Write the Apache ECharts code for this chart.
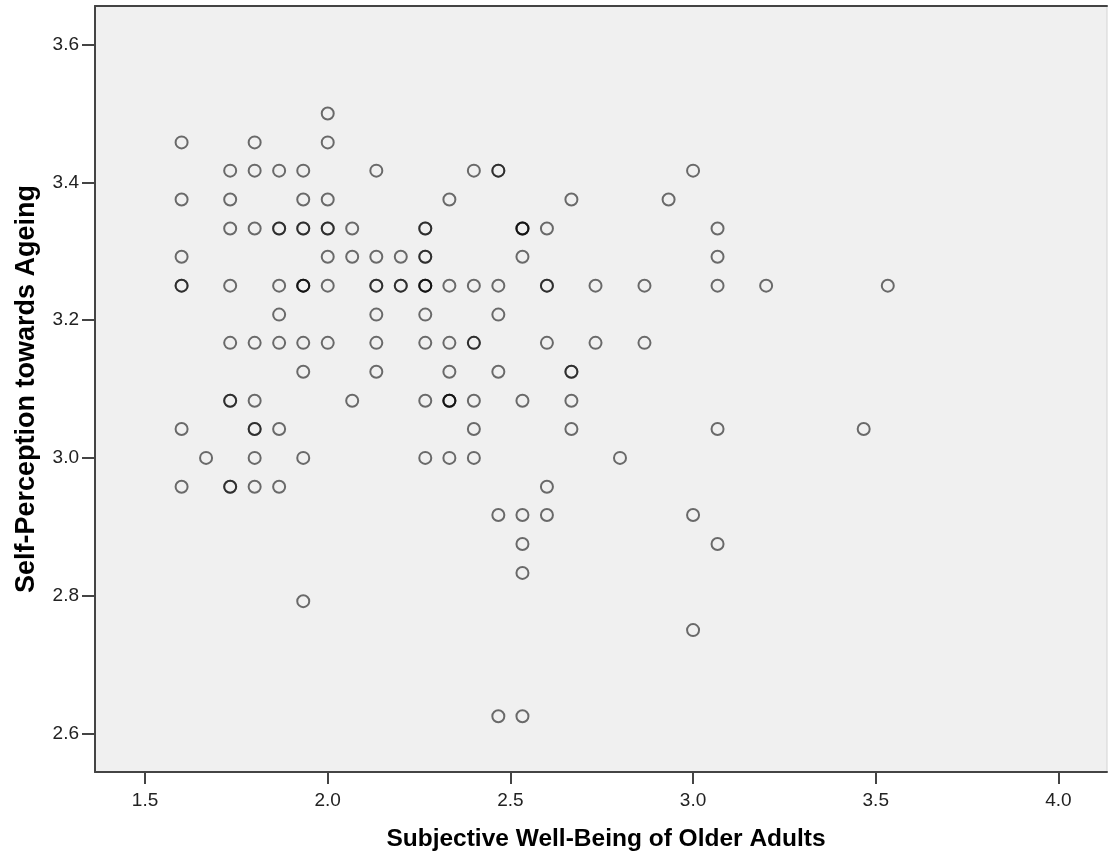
<!DOCTYPE html>
<html>
<head>
<meta charset="utf-8">
<title>Self-Perception towards Ageing</title>
<script src="https://cdn.jsdelivr.net/npm/echarts@6.0.0/dist/echarts.min.js"></script>
<style>
  html, body { margin: 0; padding: 0; background: #fff; }
  #chart { width: 1108px; height: 854px; }
</style>
</head>
<body>
<div id="chart"></div>
<script>
// Subjective well-being score of each respondent (x)
const swbScores = [
  1.6, 1.6, 1.6, 1.6, 1.6, 1.6, 1.6,
  1.667,
  1.733, 1.733, 1.733, 1.733, 1.733, 1.733, 1.733, 1.733, 1.733,
  1.8, 1.8, 1.8, 1.8, 1.8, 1.8, 1.8, 1.8, 1.8,
  1.867, 1.867, 1.867, 1.867, 1.867, 1.867, 1.867, 1.867,
  1.933, 1.933, 1.933, 1.933, 1.933, 1.933, 1.933, 1.933, 1.933, 1.933, 1.933,
  2.0, 2.0, 2.0, 2.0, 2.0, 2.0, 2.0, 2.0,
  2.067, 2.067, 2.067,
  2.133, 2.133, 2.133, 2.133, 2.133, 2.133, 2.133,
  2.2, 2.2, 2.2,
  2.267, 2.267, 2.267, 2.267, 2.267, 2.267, 2.267, 2.267, 2.267, 2.267, 2.267,
  2.333, 2.333, 2.333, 2.333, 2.333, 2.333, 2.333, 2.333,
  2.4, 2.4, 2.4, 2.4, 2.4, 2.4, 2.4,
  2.467, 2.467, 2.467, 2.467, 2.467, 2.467, 2.467,
  2.533, 2.533, 2.533, 2.533, 2.533, 2.533, 2.533, 2.533, 2.533,
  2.6, 2.6, 2.6, 2.6, 2.6, 2.6,
  2.667, 2.667, 2.667, 2.667, 2.667,
  2.733, 2.733,
  2.8,
  2.867, 2.867,
  2.933,
  3.0, 3.0, 3.0,
  3.067, 3.067, 3.067, 3.067, 3.067,
  3.2,
  3.467,
  3.533
]

// Self-perception towards ageing score of the same respondent (y)
const spaScores = [
  3.458, 3.375, 3.292, 3.25, 3.25, 3.042, 2.958,
  3.0,
  3.417, 3.375, 3.333, 3.25, 3.167, 3.083, 3.083, 2.958, 2.958,
  3.458, 3.417, 3.333, 3.167, 3.083, 3.042, 3.042, 3.0, 2.958,
  3.417, 3.333, 3.333, 3.25, 3.208, 3.167, 3.042, 2.958,
  3.417, 3.375, 3.333, 3.333, 3.25, 3.25, 3.25, 3.167, 3.125, 3.0, 2.792,
  3.5, 3.458, 3.375, 3.333, 3.333, 3.292, 3.25, 3.167,
  3.333, 3.292, 3.083,
  3.417, 3.292, 3.25, 3.25, 3.208, 3.167, 3.125,
  3.292, 3.25, 3.25,
  3.333, 3.333, 3.292, 3.292, 3.25, 3.25, 3.25, 3.208, 3.167, 3.083, 3.0,
  3.375, 3.25, 3.167, 3.125, 3.083, 3.083, 3.083, 3.0,
  3.417, 3.25, 3.167, 3.167, 3.083, 3.042, 3.0,
  3.417, 3.417, 3.25, 3.208, 3.125, 2.917, 2.625,
  3.333, 3.333, 3.333, 3.292, 3.083, 2.917, 2.875, 2.833, 2.625,
  3.333, 3.25, 3.25, 3.167, 2.958, 2.917,
  3.375, 3.125, 3.125, 3.083, 3.042,
  3.25, 3.167,
  3.0,
  3.25, 3.167,
  3.375,
  3.417, 2.917, 2.75,
  3.333, 3.292, 3.25, 3.042, 2.875,
  3.25,
  3.042,
  3.25
]

// tick labels
const xTicks = [1.5, 2.0, 2.5, 3.0, 3.5, 4.0]
const yTicks = [2.6, 2.8, 3.0, 3.2, 3.4, 3.6]

const xRange = [1.363, 4.133]
const yRange = [2.544, 3.656]

const labelFont = '"Liberation Sans", Arial, sans-serif'

function renderChart() {
  const myChart = echarts.init(document.getElementById('chart'))
  const points = swbScores.map((x, i) => [x, spaScores[i]])

  const option = {
    animation: false,
    grid: {
      left: 95,
      right: 1,
      top: 6,
      bottom: 82,
      outerBoundsMode: 'none', // keep the plot box where it is, names sit outside
      show: true,
      backgroundColor: '#f0f0f0',
      borderColor: '#d4d4d4',
      borderWidth: 1
    },
    xAxis: [
      {
        type: 'value',
        min: xRange[0],
        max: xRange[1],
        name: 'Subjective Well-Being of Older Adults',
        nameLocation: 'middle',
        nameGap: 55,
        nameTextStyle: {
          fontFamily: labelFont,
          fontSize: 24.5,
          fontWeight: 'bold',
          color: '#000',
          padding: [0, 0, 0, 10]
        },
        axisLine: { show: true, lineStyle: { color: '#444', width: 2 } },
        axisTick: {
          show: true,
          length: 12,
          customValues: xTicks,
          lineStyle: { color: '#444', width: 2 }
        },
        axisLabel: {
          customValues: xTicks,
          margin: 19,
          fontFamily: labelFont,
          fontSize: 19,
          color: '#222',
          formatter: v => v.toFixed(1)
        },
        splitLine: { show: false }
      },
      {
        // top frame line
        type: 'value',
        position: 'top',
        min: xRange[0],
        max: xRange[1],
        axisLine: { show: true, lineStyle: { color: '#444', width: 2 } },
        axisTick: { show: false },
        axisLabel: { show: false },
        splitLine: { show: false }
      }
    ],
    yAxis: {
      type: 'value',
      min: yRange[0],
      max: yRange[1],
      name: 'Self-Perception towards Ageing',
      nameLocation: 'middle',
      nameGap: 55,
      nameTextStyle: {
        fontFamily: labelFont,
        fontSize: 27,
        fontWeight: 'bold',
        color: '#000'
      },
      axisLine: { show: true, lineStyle: { color: '#444', width: 2 } },
      axisTick: {
        show: true,
        length: 13,
        customValues: yTicks,
        lineStyle: { color: '#444', width: 2 }
      },
      axisLabel: {
        customValues: yTicks,
        margin: 16,
        fontFamily: labelFont,
        fontSize: 19,
        color: '#222',
        formatter: v => v.toFixed(1)
      },
      splitLine: { show: false }
    },
    series: [
      {
        type: 'scatter',
        data: points,
        symbol: 'circle',
        symbolSize: 12,
        itemStyle: {
          color: 'rgba(0,0,0,0)',
          borderColor: 'rgba(0,0,0,0.7)',
          borderWidth: 2
        }
      }
    ]
  }

  myChart.setOption(option)
}

renderChart()
</script>
</body>
</html>
